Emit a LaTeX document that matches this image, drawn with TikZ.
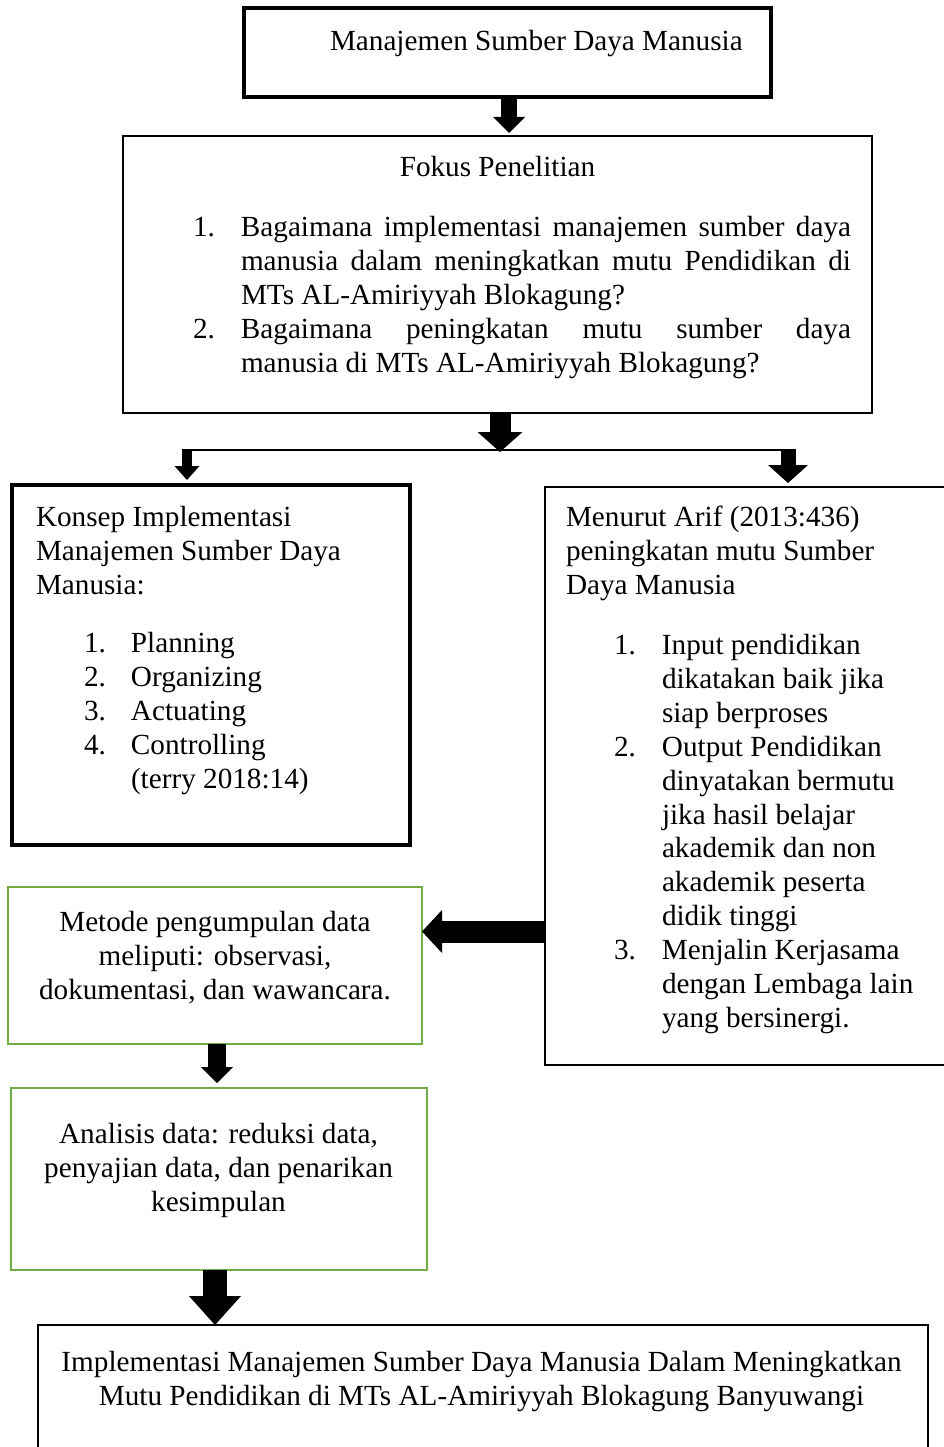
\documentclass[tikz,border=0pt]{standalone}
\usepackage{fontspec}
\setmainfont{Liberation Serif}
\usetikzlibrary{arrows.meta,calc}
\definecolor{ogreen}{HTML}{70AD47}
\begin{document}
\begin{tikzpicture}[x=1pt,y=-1pt,
  every node/.style={font=\fontsize{29.2}{33.9}\selectfont, inner sep=0pt, outer sep=0pt},
  boxthick/.style={draw, line width=4pt, rectangle},
  boxthin/.style={draw, line width=2pt, rectangle},
  boxgreen/.style={draw=ogreen, line width=2.5pt, rectangle},
  blk/.style n args={3}{line width=#1, -{Triangle[width=#2, length=#3, line width=0pt]}},
  txt/.style={anchor=base west},
  ctxt/.style={anchor=base}]
\useasboundingbox (0,0) rectangle (944,1447);
\clip (0,0) rectangle (944,1447);

% boxes
\node[boxthick, minimum width=527pt, minimum height=89pt] (top) at (507.5,52.5) {};
\node[boxthin, minimum width=749pt, minimum height=277pt] (fokus) at (497.5,274.5) {};
\node[boxthick, minimum width=398pt, minimum height=360pt] (konsep) at (211,665) {};
\node[boxthin, minimum width=415pt, minimum height=578pt] (menurut) at (752.5,776) {};
\node[boxgreen, minimum width=414pt, minimum height=157pt] (metode) at (215,965.5) {};
\node[boxgreen, minimum width=416pt, minimum height=182pt] (analisis) at (219,1179) {};
\node[boxthin, minimum width=890pt, minimum height=135pt] (bottom) at (483,1392.5) {};

% texts
\node[txt] (ttop) at (330,51) {Manajemen Sumber Daya Manusia};
\node[ctxt] (tfok) at (497.5,176.5) {Fokus Penelitian};
\node[txt] (lfok) at (193,236.5) {\parbox[t]{658pt}{\setlength{\parindent}{0pt}\setlength{\leftskip}{48pt}\hyphenpenalty=10000\emergencystretch=3em
\hspace*{-48pt}\makebox[48pt][l]{1.}Bagaimana implementasi manajemen sumber daya\linebreak manusia dalam meningkatkan mutu Pendidikan di\linebreak MTs AL-Amiriyyah Blokagung?\par
\hspace*{-48pt}\makebox[48pt][l]{2.}Bagaimana peningkatan mutu sumber daya\linebreak manusia di MTs AL-Amiriyyah Blokagung?\par}};

\node[txt] (tkon) at (36,526.5) {\begin{tabular}[t]{@{}l@{}}Konsep Implementasi\\Manajemen Sumber Daya\\Manusia:\end{tabular}};
\node[txt] (lkon) at (84,652.5) {\begin{tabular}[t]{@{}p{47pt}@{}l@{}}1. & Planning\\2. & Organizing\\3. & Actuating\\4. & Controlling\\ & (terry 2018:14)\end{tabular}};

\node[txt] (tmen) at (566,526.5) {\begin{tabular}[t]{@{}l@{}}Menurut Arif (2013:436)\\peningkatan mutu Sumber\\Daya Manusia\end{tabular}};
\node[txt] (lmen) at (614,654.5) {\begin{tabular}[t]{@{}p{48pt}@{}l@{}}1. & Input pendidikan\\ & dikatakan baik jika\\ & siap berproses\\2. & Output Pendidikan\\ & dinyatakan bermutu\\ & jika hasil belajar\\ & akademik dan non\\ & akademik peserta\\ & didik tinggi\\3. & Menjalin Kerjasama\\ & dengan Lembaga lain\\ & yang bersinergi.\end{tabular}};

\node[ctxt] (tmet) at (215,931.5) {\begin{tabular}[t]{@{}c@{}}Metode pengumpulan data\\meliputi: observasi,\\dokumentasi, dan wawancara.\end{tabular}};
\node[ctxt] (tana) at (218.5,1143.5) {\begin{tabular}[t]{@{}c@{}}Analisis data: reduksi data,\\penyajian data, dan penarikan\\kesimpulan\end{tabular}};
\node[ctxt] (tbot) at (481.5,1371.5) {\begin{tabular}[t]{@{}c@{}}Implementasi Manajemen Sumber Daya Manusia Dalam Meningkatkan\\Mutu Pendidikan di MTs AL-Amiriyyah Blokagung Banyuwangi\end{tabular}};

% connectors
\draw[blk={16pt}{32pt}{16pt}, shorten >=3pt] ([xshift=1.5pt]top.south) -- ([xshift=1.5pt]top.south |- fokus.north);
\coordinate (split) at (500,450);
\coordinate (jl) at (187,450);
\coordinate (jr) at (788,450);
\draw[blk={21pt}{45pt}{20pt}] (fokus.south -| split) -- ($(split)+(0,2)$);
\draw[line width=2pt] (jl) -- ($(jr)+(8,0)$);
\draw[blk={10pt}{25pt}{14pt}, shorten >=5pt] ($(jl)+(0,-1)$) -- (jl |- konsep.north);
\draw[blk={15pt}{40pt}{18pt}, shorten >=4pt] ($(jr)+(0,-1)$) -- (jr |- menurut.north);
\coordinate (mw) at (545,931.5);
\draw[blk={22pt}{43pt}{20pt}] (mw) -- (mw -| metode.east);
\draw[blk={18pt}{32pt}{16pt}, shorten >=5pt] ([xshift=2pt]metode.south) -- ([xshift=2pt]metode.south |- analisis.north);
\draw[blk={24pt}{52pt}{29pt}] ([xshift=-4pt]analisis.south) -- ([xshift=-4pt]analisis.south |- bottom.north);
\end{tikzpicture}
\end{document}
